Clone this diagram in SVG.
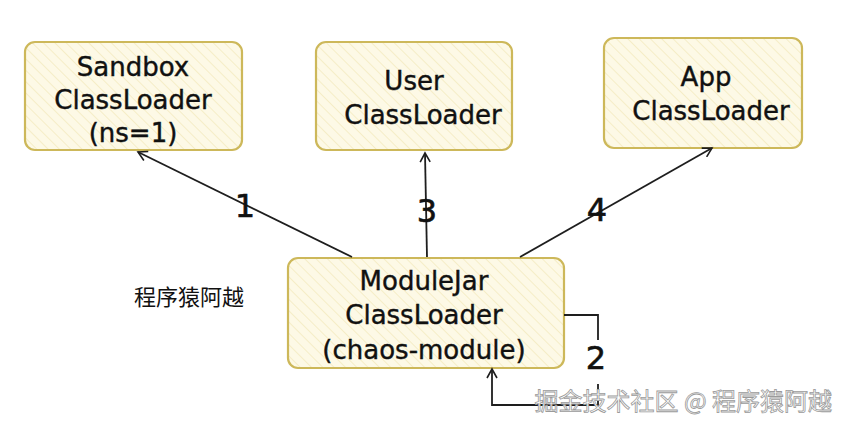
<svg xmlns="http://www.w3.org/2000/svg" width="846" height="424" viewBox="0 0 846 424">
<defs>
<pattern id="hatch" width="8" height="8" patternUnits="userSpaceOnUse" patternTransform="rotate(-45)">
<rect width="8" height="8" fill="#fdf9e6"/>
<line x1="0" y1="0" x2="0" y2="8" stroke="#f3e9bd" stroke-width="1.5"/>
</pattern>
<marker id="arr" viewBox="0 0 12 12" refX="10" refY="6" markerWidth="12" markerHeight="12" orient="auto" markerUnits="userSpaceOnUse">
<path d="M1,1 L10,6 L1,11" fill="none" stroke="#1e1e1e" stroke-width="1.6"/>
</marker>
</defs>
<style>
.box{fill:url(#hatch);stroke:#cdb85a;stroke-width:2.2}
.t{font-family:"DejaVu Sans",sans-serif;font-size:26px;fill:#111;text-anchor:middle;stroke:#111;stroke-width:0.4}
.lbl{font-family:"DejaVu Sans",sans-serif;font-size:32px;fill:#111;text-anchor:middle;stroke:#111;stroke-width:0.6}
.c{fill:none;stroke:#1e1e1e;stroke-width:1.8}
</style>
<rect width="846" height="424" fill="#ffffff"/>
<g id="sandbox">
<rect class="box" x="25" y="42" width="217" height="108" rx="10"/>
<text class="t" x="133" y="76">Sandbox</text>
<text class="t" x="133" y="109">ClassLoader</text>
<text class="t" x="133" y="142">(ns=1)</text>
</g>
<g id="user">
<rect class="box" x="316" y="42" width="196" height="108" rx="10"/>
<text class="t" x="414" y="90">User</text>
<text class="t" x="423" y="124">ClassLoader</text>
</g>
<g id="app">
<rect class="box" x="604" y="38" width="198" height="110" rx="10"/>
<text class="t" x="706" y="86">App</text>
<text class="t" x="711" y="120">ClassLoader</text>
</g>
<g id="modulejar">
<rect class="box" x="288" y="258" width="276" height="110" rx="10"/>
<text class="t" x="424" y="290">ModuleJar</text>
<text class="t" x="424" y="324">ClassLoader</text>
<text class="t" x="424" y="359">(chaos-module)</text>
</g>
<g id="connectors">
<path class="c" d="M352,257 L138,152" marker-end="url(#arr)"/>
<path class="c" d="M427,257 L425,153" marker-end="url(#arr)"/>
<path class="c" d="M520,257 L712,148" marker-end="url(#arr)"/>
<path class="c" d="M564,315 L598,315 L598,340"/>
<path class="c" d="M598,384 L598,405 L492,405 L492,369" marker-end="url(#arr)"/>
<text class="lbl" x="245" y="217">1</text>
<text class="lbl" x="427" y="222">3</text>
<text class="lbl" x="597" y="221">4</text>
<text class="lbl" x="596" y="369" font-size="30">2</text>
</g>
<text x="189" y="305" font-family="'Noto Sans CJK SC',sans-serif" font-size="22" fill="#111" text-anchor="middle">程序猿阿越</text>
<text x="832" y="410" font-family="'Noto Sans CJK SC',sans-serif" font-size="24" fill="#ffffff" stroke="#9a9a9a" stroke-width="0.8" text-anchor="end">掘金技术社区 @ 程序猿阿越</text>
</svg>
